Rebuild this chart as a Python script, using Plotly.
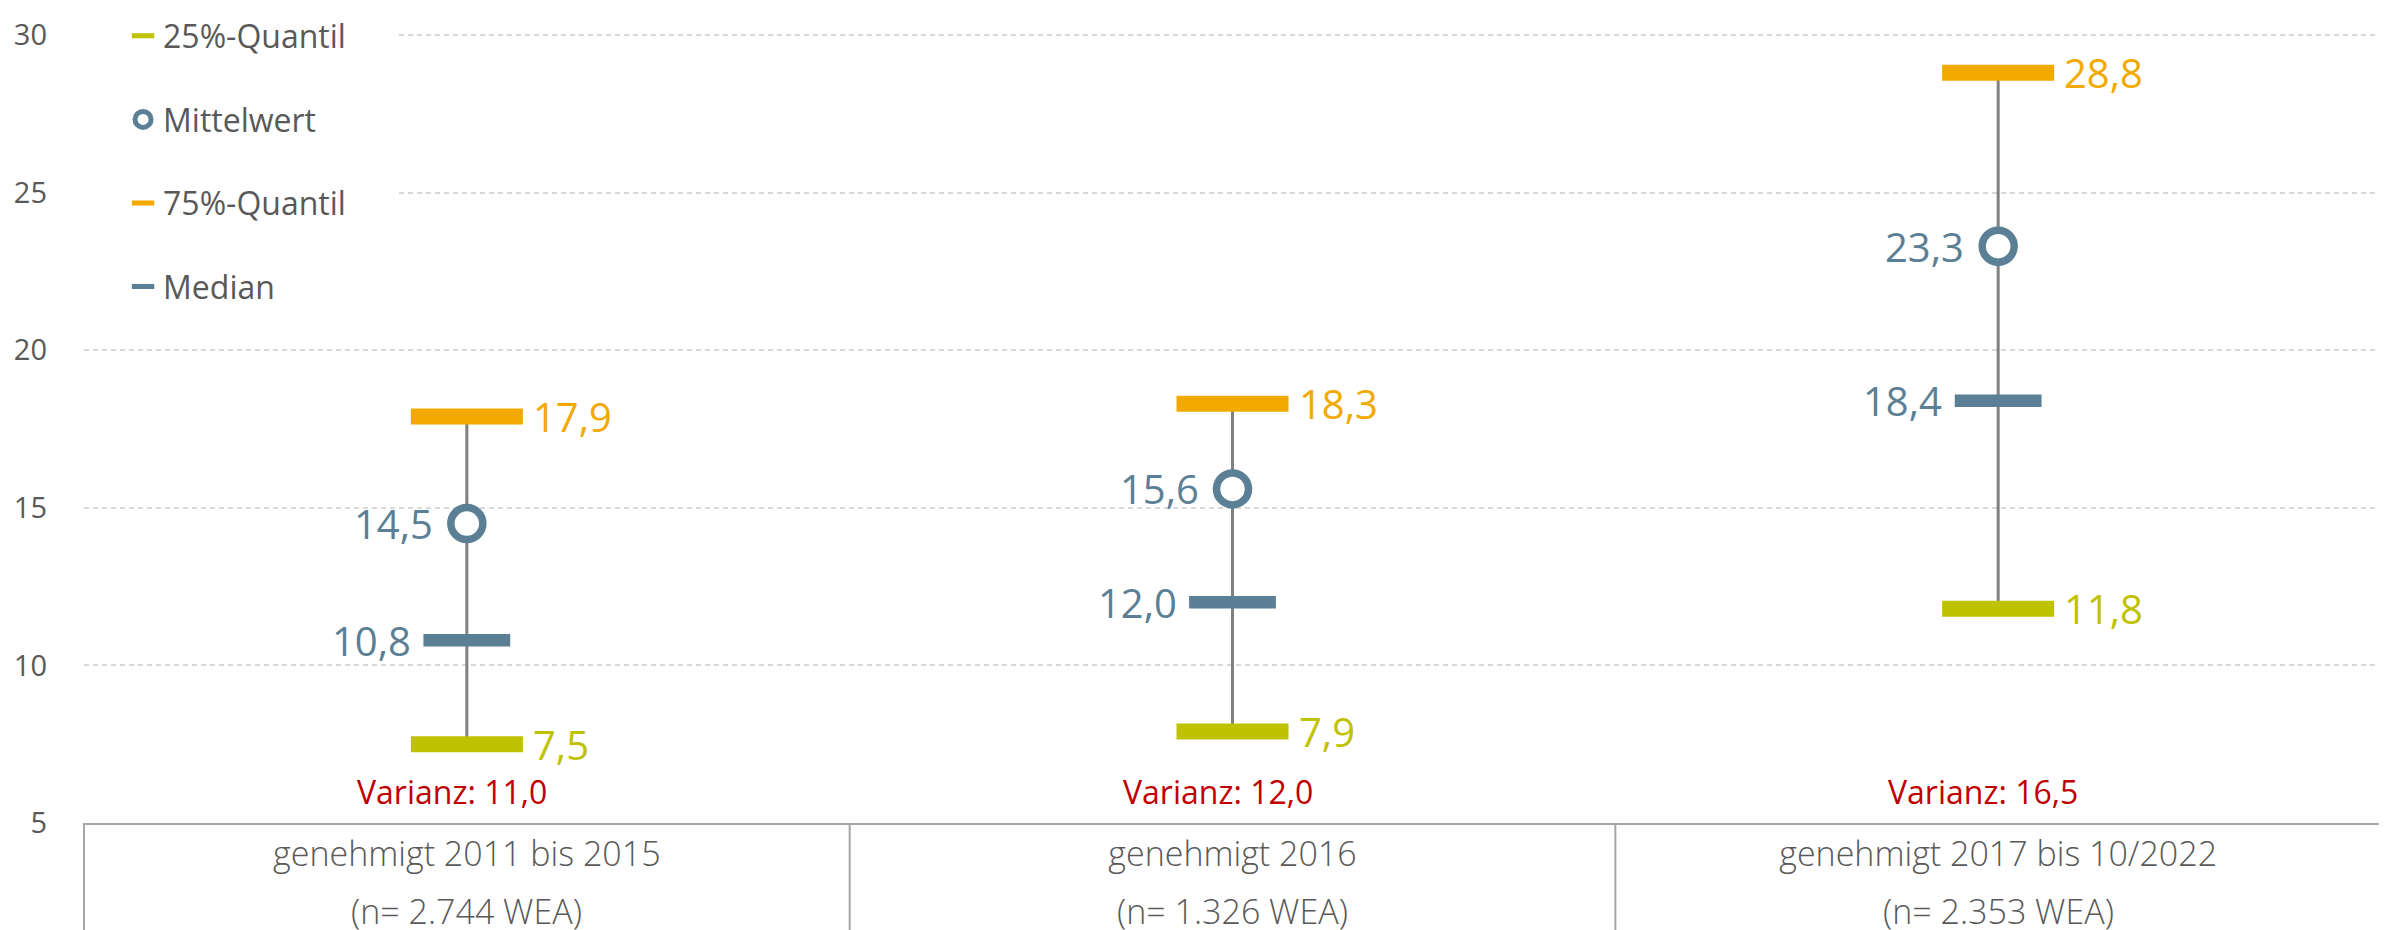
import plotly.graph_objects as go

# ---------------- data ----------------
categories = ["genehmigt 2011 bis 2015", "genehmigt 2016", "genehmigt 2017 bis 10/2022"]
n_labels = ["(n= 2.744 WEA)", "(n= 1.326 WEA)", "(n= 2.353 WEA)"]
q25 = [7.5, 7.9, 11.8]
q75 = [17.9, 18.3, 28.8]
mean_vals = [14.5, 15.6, 23.3]
median_vals = [10.8, 12.0, 18.4]
varianz = [11.0, 12.0, 16.5]
y_ticks = [5, 10, 15, 20, 25, 30]

# ---------------- style ----------------
C_Q25 = "#BFC200"
C_Q75 = "#F2A900"
C_BLUE = "#5B7F95"
C_RED = "#C00000"
C_TXT = "#595959"
C_WHISK = "#808080"
C_BORDER = "#A6A6A6"
FONT = "Open Sans"


def de(v):
    return f"{v:.1f}".replace(".", ",")


fig = go.Figure()

# whiskers
wx, wy = [], []
for c, lo, hi in zip(categories, q25, q75):
    wx += [c, c, None]
    wy += [lo, hi, None]
fig.add_trace(go.Scatter(x=wx, y=wy, mode="lines", line=dict(color=C_WHISK, width=3),
                         showlegend=False, hoverinfo="skip"))

fig.add_trace(go.Scatter(
    x=categories, y=q25, mode="markers", name="25%-Quantil", legendgroup="a", legendrank=1,
    marker=dict(symbol="line-ew", size=80, color=C_Q25, line=dict(color=C_Q25, width=16))))
fig.add_trace(go.Scatter(
    x=categories, y=q75, mode="markers", name="75%-Quantil", legendgroup="c", legendrank=3,
    marker=dict(symbol="line-ew", size=80, color=C_Q75, line=dict(color=C_Q75, width=16))))
fig.add_trace(go.Scatter(
    x=categories, y=median_vals, mode="markers", name="Median", legendgroup="d", legendrank=4,
    marker=dict(symbol="line-ew", size=62, color=C_BLUE, line=dict(color=C_BLUE, width=12.5))))
fig.add_trace(go.Scatter(
    x=categories, y=mean_vals, mode="markers", name="Mittelwert", legendgroup="b", legendrank=2,
    marker=dict(symbol="circle", size=32, color="white", line=dict(color=C_BLUE, width=7.5))))

annotations = []
lab_font = 40
for c, v in zip(categories, q25):
    annotations.append(dict(x=c, y=v, text=de(v), showarrow=False, xanchor="left", yanchor="middle",
                            xshift=64, font=dict(family=FONT, size=lab_font, color=C_Q25)))
for c, v in zip(categories, q75):
    annotations.append(dict(x=c, y=v, text=de(v), showarrow=False, xanchor="left", yanchor="middle",
                            xshift=64, font=dict(family=FONT, size=lab_font, color=C_Q75)))
for c, v in zip(categories, mean_vals):
    annotations.append(dict(x=c, y=v, text=de(v), showarrow=False, xanchor="right", yanchor="middle",
                            xshift=-32, font=dict(family=FONT, size=lab_font, color=C_BLUE)))
for c, v in zip(categories, median_vals):
    annotations.append(dict(x=c, y=v, text=de(v), showarrow=False, xanchor="right", yanchor="middle",
                            xshift=-54, font=dict(family=FONT, size=lab_font, color=C_BLUE)))
for c, v in zip(categories, varianz):
    annotations.append(dict(x=c, y=0, yref="paper", text="Varianz: " + de(v), showarrow=False,
                            xanchor="center", yanchor="middle", xshift=-15, yshift=32,
                            font=dict(family=FONT, size=32, color=C_RED)))
for c, t in zip(categories, n_labels):
    annotations.append(dict(x=c, y=0, yref="paper", text=t, showarrow=False,
                            xanchor="center", yanchor="middle", yshift=-88,
                            font=dict(family=FONT, size=34, color=C_TXT, weight=300)))

ncat = len(categories)
shapes = []
for i in range(ncat + 1):
    shapes.append(dict(type="line", xref="paper", yref="paper", x0=i / ncat, x1=i / ncat,
                       y0=0, y1=-0.25, line=dict(color=C_BORDER, width=2)))
# white area behind the legend (hides grid lines)
shapes.append(dict(type="rect", xref="paper", yref="paper", x0=0, x1=0.136, y0=0.66, y1=1.0,
                   fillcolor="white", line=dict(width=0), layer="above"))

fig.update_layout(
    width=2387, height=930,
    margin=dict(l=76, r=14, t=25, b=115, autoexpand=False),
    paper_bgcolor="white", plot_bgcolor="white",
    font=dict(family=FONT, color=C_TXT),
    showlegend=True,
    legend=dict(x=0.017, y=1.031, xanchor="left", yanchor="top", bgcolor="white",
                font=dict(family=FONT, size=32, color=C_TXT), tracegroupgap=39,
                traceorder="grouped"),
    annotations=annotations,
    shapes=shapes,
)
fig.update_xaxes(type="category", categoryorder="array", categoryarray=categories,
                 range=[-0.5, ncat - 0.5], showgrid=False, showline=True, linecolor=C_BORDER,
                 linewidth=2, ticks="", ticklabelstandoff=0,
                 tickfont=dict(family=FONT, size=34, color=C_TXT, weight=300))
fig.update_yaxes(range=[5, 30.064], tickvals=y_ticks, ticktext=[str(t) for t in y_ticks],
                 showgrid=True, gridcolor="#D9D9D9", griddash="5px,4px", gridwidth=1.5,
                 zeroline=False, showline=False, ticks="", ticklabelstandoff=36,
                 tickfont=dict(family=FONT, size=29, color=C_TXT))

fig.write_html("out.html")
